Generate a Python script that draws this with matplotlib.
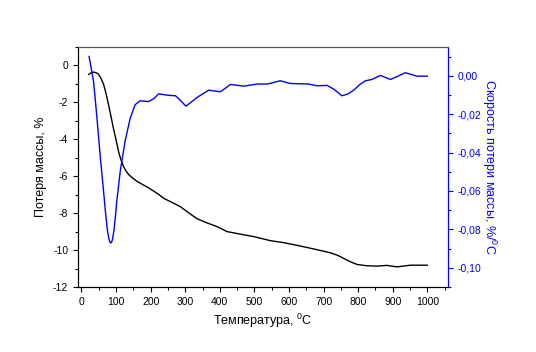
import numpy as np
import matplotlib
matplotlib.use("Agg")
import matplotlib.pyplot as plt
from matplotlib.ticker import MultipleLocator, FuncFormatter

plt.rcParams['font.family'] = ['Liberation Sans', 'DejaVu Sans']
plt.rcParams['axes.unicode_minus'] = False
plt.rcParams['mathtext.fontset'] = 'custom'
plt.rcParams['mathtext.rm'] = 'Liberation Sans'

# ─── DATA ────────────────────────────────────────────────────────────────────
# mass loss (TG), %
tg_temp = [21, 28, 35, 42, 49, 56, 64, 71, 78, 85, 92, 100, 107, 114, 121,
           128, 136, 148, 160, 177, 194, 210, 223, 238, 262, 286, 310, 334,
           362, 392, 421, 460, 498, 546, 585, 625, 662, 690, 720, 740, 758,
           778, 797, 825, 855, 883, 912, 951, 1000]
tg_loss = [-0.49, -0.40, -0.36, -0.39, -0.47, -0.68, -1.02, -1.52, -2.1,
           -2.72, -3.37, -4.02, -4.64, -5.1, -5.45, -5.7, -5.9, -6.1, -6.27,
           -6.45, -6.63, -6.82, -6.98, -7.2, -7.42, -7.65, -7.98, -8.3,
           -8.52, -8.73, -9.0, -9.14, -9.27, -9.49, -9.6, -9.75, -9.9,
           -10.02, -10.15, -10.28, -10.45, -10.64, -10.78, -10.85, -10.87,
           -10.83, -10.91, -10.82, -10.82]

# mass loss rate (DTG), %/C
dtg_temp = [22, 28, 35, 44, 54, 64, 70, 75, 80, 84, 87, 90, 94, 98, 102, 112,
            126, 141, 155, 170, 194, 210, 223, 248, 272, 287, 302, 318, 334,
            368, 402, 431, 469, 508, 537, 575, 604, 657, 681, 710, 730, 753,
            770, 787, 805, 821, 840, 864, 893, 915, 936, 970, 1000]
dtg_rate = [0.0101, 0.0040, -0.0029, -0.0203, -0.0412, -0.0603, -0.0720,
            -0.0805, -0.0855, -0.0871, -0.0868, -0.0850, -0.0805, -0.0735,
            -0.0656, -0.0499, -0.0342, -0.0221, -0.0151, -0.0130, -0.0134,
            -0.0118, -0.0094, -0.0101, -0.0104, -0.0130, -0.0158, -0.0136,
            -0.0113, -0.0075, -0.0083, -0.0045, -0.0054, -0.0043, -0.0043,
            -0.0026, -0.0040, -0.0043, -0.0052, -0.0050, -0.0070, -0.0104,
            -0.0095, -0.0075, -0.0045, -0.0026, -0.0019, 0.0002, -0.0019,
            -0.0002, 0.0016, -0.0002, -0.0002]

BLUE = '#0000ff'

# ─── PLOT ────────────────────────────────────────────────────────────────────
fig = plt.figure(figsize=(5.36, 3.52), dpi=100)
ax = fig.add_axes([0.1455, 0.1847, 0.6905, 0.6818])
ax.plot(tg_temp, tg_loss, color='black', lw=1.0)
ax.set_xlim(-10, 1060)
ax.set_ylim(-12, 1)
ax.xaxis.set_major_locator(MultipleLocator(100))
ax.xaxis.set_minor_locator(MultipleLocator(50))
ax.yaxis.set_major_locator(MultipleLocator(2))
ax.yaxis.set_minor_locator(MultipleLocator(1))
ax.tick_params(which='both', direction='out', labelsize=7.5, width=0.8)
ax.tick_params(which='major', length=3.5)
ax.tick_params(which='minor', length=2)
ax.spines['top'].set_color('#555555')
ax.set_xlabel('Температура, $^0$C', fontsize=9)
ax.set_ylabel('Потеря массы, %', fontsize=9)


def comma_fmt(v, pos):
    if abs(v) < 1e-9:
        v = 0.0
    return f'{v:.2f}'.replace('.', ',')


ax2 = ax.twinx()
ax2.plot(dtg_temp, dtg_rate, color=BLUE, lw=1.0)
ax2.set_ylim(-0.11, 0.015)
ax2.yaxis.set_major_locator(MultipleLocator(0.02))
ax2.yaxis.set_minor_locator(MultipleLocator(0.01))
ax2.yaxis.set_major_formatter(FuncFormatter(comma_fmt))
ax2.tick_params(which='both', direction='out', labelsize=7.5, width=0.8,
                colors=BLUE)
ax2.tick_params(which='major', length=3.5)
ax2.tick_params(which='minor', length=2)
ax2.spines['right'].set_color(BLUE)
ax2.spines['top'].set_color('#555555')
ax2.set_ylabel('Скорость потери массы, %/$^0$C', fontsize=9, color=BLUE,
               rotation=270, labelpad=12)

fig.savefig('out.png', dpi=100)
